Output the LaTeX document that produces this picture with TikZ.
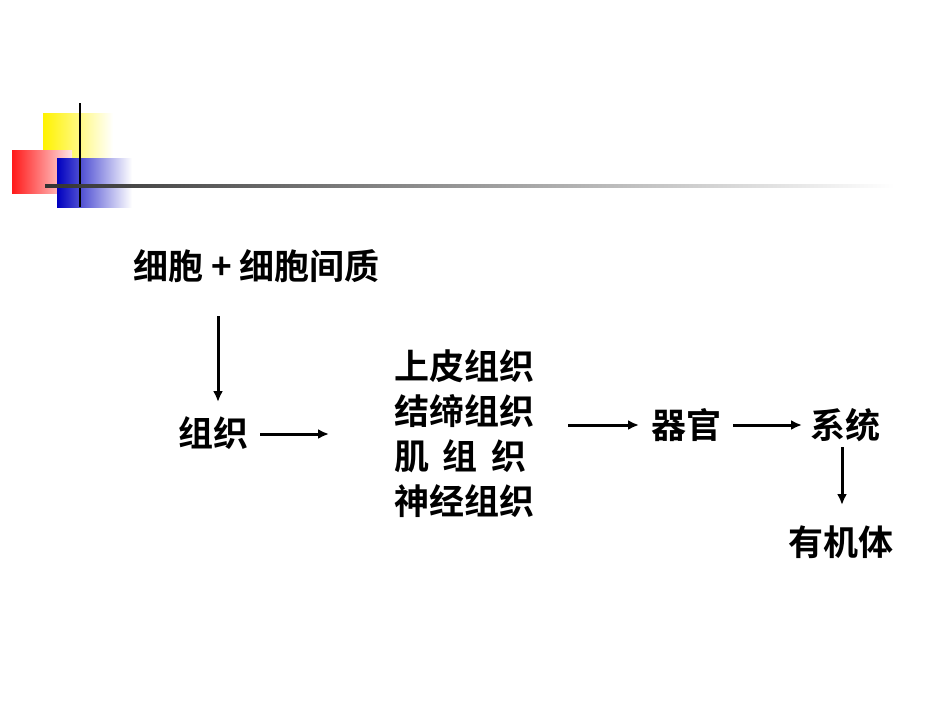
\documentclass[tikz,border=0pt]{standalone}
\usepackage{fontspec}
\newfontfamily\cjk{Noto Sans CJK SC}[BoldFont={Noto Sans CJK SC Bold}]
\usetikzlibrary{arrows.meta}
\begin{document}
\begin{tikzpicture}[x=1pt,y=-1pt,
  lbl/.style={font=\cjk\bfseries\fontsize{35}{45}\selectfont,inner sep=0pt,anchor=west},
  arr/.style={-{Latex[length=11pt,width=10pt]},line width=3pt}]
\useasboundingbox[fill=white] (0,0) rectangle (950,713);
% decoration
\fill[left color=yellow!90!orange,right color=white] (43,113) rectangle (113,160);
\fill[left color=red!90,right color=red!10] (12,150) rectangle (72,193);
\fill[left color=blue!75!black,right color=white] (57,158) rectangle (132,207);
\draw[line width=2pt] (80,103) -- (80,207);
\shade[left color=black!80,right color=white] (45,184.5) rectangle (895,187.5);
% nodes
\node[lbl] (a) at (133,266) {细胞\ +\ 细胞间质};
\node[lbl] (b) at (178,433) {组织};
\node[lbl,align=left] (c) at (394,434) {上皮组织\\结缔组织\\肌\ \,组\ \,织\\神经组织};
\node[lbl] (d) at (651,425) {器官};
\node[lbl] (e) at (810,425) {系统};
\node[lbl] (f) at (788,542) {有机体};
\coordinate (a1) at (218,316); \coordinate (a2) at (218,402);
\draw[arr] (a1) -- (a2);
\coordinate (b1) at (260,434); \coordinate (b2) at (329,434);
\draw[arr] (b1) -- (b2);
\coordinate (c1) at (568,425);
\draw[arr] (c1) -- ([xshift=-12pt]d.west);
\draw[arr] ([xshift=12pt]d.east) -- ([xshift=-8pt]e.west);
\coordinate (e1) at (842,447); \coordinate (e2) at (842,505);
\draw[arr] (e1) -- (e2);
\end{tikzpicture}
\end{document}
